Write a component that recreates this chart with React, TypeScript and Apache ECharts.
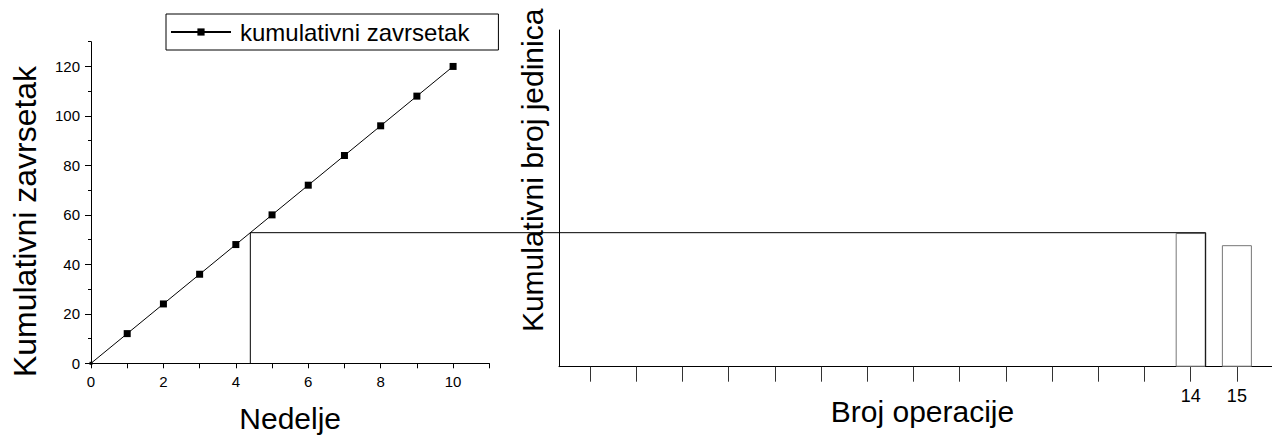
import React, { useEffect, useRef } from "react";
import * as echarts from "echarts";

// ---- data ----
const weeks = [0, 1, 2, 3, 4, 5, 6, 7, 8, 9, 10];
const cumulative = [0, 12, 24, 36, 48, 60, 72, 84, 96, 108, 120];
const seriesName = "kumulativni zavrsetak";
const leftXTicks = [0, 1, 2, 3, 4, 5, 6, 7, 8, 9, 10, 11];
const leftXLabels = [0, 2, 4, 6, 8, 10];
const leftYMajor = [0, 20, 40, 60, 80, 100, 120];
const leftYMinor = [10, 30, 50, 70, 90, 110, 130];
const crossWeek = 4.4;
const crossLevel = 52.8;
const operations = [14, 15];
const units = [52.8, 48];
const opTicks = [1, 2, 3, 4, 5, 6, 7, 8, 9, 10, 11, 12, 13, 14, 15];
const opLabels = [14, 15];

const leftXMax = 11;
const leftYMax = 130;
const rightXMin = 0.33;
const rightXMax = 15.76;
const rightYMax = 133;

const FONT = "'Liberation Sans', Arial, sans-serif";
const BAR_W = 30;

export default function App() {
  const ref = useRef<HTMLDivElement>(null);
  useEffect(() => {
    document.body.style.margin = "0";
    const chart = echarts.init(ref.current!, null, { renderer: "svg" });
    chart.setOption({
      animation: false,
      backgroundColor: "#fff",
      textStyle: { fontFamily: FONT, color: "#000" },
      legend: {
        data: [seriesName],
        left: 166,
        top: 14,
        itemWidth: 60,
        itemHeight: 9,
        itemGap: 0,
        borderColor: "#000",
        borderWidth: 1,
        padding: [6, 29, 6, 4],
        textStyle: { fontSize: 24, color: "#000", fontFamily: FONT, padding: [0, 0, 0, 4] },
      },
      grid: [
        { left: 91, top: 41.7, width: 398.3, height: 321.6, outerBoundsMode: "none", containLabel: false },
        { left: 559, top: 30, width: 713, height: 336.7, outerBoundsMode: "none", containLabel: false },
      ],
      xAxis: [
        {
          type: "value",
          gridIndex: 0,
          min: 0,
          max: leftXMax,
          name: "Nedelje",
          nameLocation: "middle",
          nameGap: 40,
          nameMoveOverlap: false,
          nameTextStyle: { fontSize: 30, color: "#000" },
          axisLine: { lineStyle: { color: "#000", width: 1 } },
          axisTick: { customValues: leftXTicks, length: 5, lineStyle: { color: "#000" } },
          axisLabel: { customValues: leftXLabels, fontSize: 15, color: "#000", margin: 11 },
          splitLine: { show: false },
        },
        {
          type: "value",
          gridIndex: 1,
          min: rightXMin,
          max: rightXMax,
          name: "Broj operacije",
          nameLocation: "middle",
          nameGap: 30,
          nameMoveOverlap: false,
          nameTextStyle: { fontSize: 30, color: "#000", padding: [0, 0, 0, 14] },
          axisLine: { lineStyle: { color: "#000", width: 1 } },
          axisTick: { customValues: opTicks, length: 15, lineStyle: { color: "#333" } },
          axisLabel: { customValues: opLabels, fontSize: 18, color: "#000", margin: 20 },
          splitLine: { show: false },
        },
      ],
      yAxis: [
        {
          type: "value",
          gridIndex: 0,
          position: "left",
          min: 0,
          max: leftYMax,
          name: "Kumulativni zavrsetak",
          nameLocation: "middle",
          nameGap: 50,
          nameMoveOverlap: false,
          nameTextStyle: { fontSize: 32, color: "#000", padding: [0, 38, 0, 0] },
          axisLine: { show: true, lineStyle: { color: "#000", width: 1 } },
          axisTick: { customValues: leftYMajor, length: 6, lineStyle: { color: "#000" } },
          axisLabel: { customValues: leftYMajor, fontSize: 15, color: "#000", margin: 11 },
          splitLine: { show: false },
        },
        {
          type: "value",
          gridIndex: 0,
          position: "left",
          offset: 0,
          min: 0,
          max: leftYMax,
          axisLine: { show: false },
          axisTick: { customValues: leftYMinor, length: 3, lineStyle: { color: "#000" } },
          axisLabel: { show: false },
          splitLine: { show: false },
        },
        {
          type: "value",
          gridIndex: 1,
          position: "left",
          min: 0,
          max: rightYMax,
          name: "Kumulativni broj jedinica",
          nameLocation: "middle",
          nameGap: 12,
          nameMoveOverlap: false,
          nameTextStyle: { fontSize: 30, color: "#000", padding: [0, 0, 0, 56] },
          axisLine: { show: true, lineStyle: { color: "#000", width: 1 } },
          axisTick: { show: false },
          axisLabel: { show: false },
          splitLine: { show: false },
        },
      ],
      series: [
        {
          name: seriesName,
          type: "line",
          xAxisIndex: 0,
          yAxisIndex: 0,
          data: weeks.map((w, i) => [w, cumulative[i]]),
          symbol: "rect",
          symbolSize: (v: number[]) => (v[0] === 0 ? 3 : 7),
          itemStyle: { color: "#000" },
          lineStyle: { color: "#000", width: 1 },
          z: 5,
        },
        {
          name: "operacije",
          type: "bar",
          xAxisIndex: 1,
          yAxisIndex: 2,
          data: operations.map((o, i) => [o, units[i]]),
          barWidth: BAR_W,
          itemStyle: { color: "#fff", borderColor: "#777", borderWidth: 1 },
        },
      ],
    });

    const p1 = chart.convertToPixel({ seriesIndex: 0 }, [crossWeek, 0]) as number[];
    const p2 = chart.convertToPixel({ seriesIndex: 0 }, [crossWeek, crossLevel]) as number[];
    const b = chart.convertToPixel({ seriesIndex: 1 }, [operations[0], 0]) as number[];
    const xr = b[0] + BAR_W / 2;
    chart.setOption({
      graphic: [
        {
          type: "polyline",
          z: 100,
          shape: { points: [p1, p2, [xr, p2[1]], [xr, b[1]]] },
          style: { stroke: "#000", lineWidth: 1, fill: null },
        },
      ],
    });

    return () => chart.dispose();
  }, []);
  return <div ref={ref} style={{ width: 1272, height: 435 }} />;
}
